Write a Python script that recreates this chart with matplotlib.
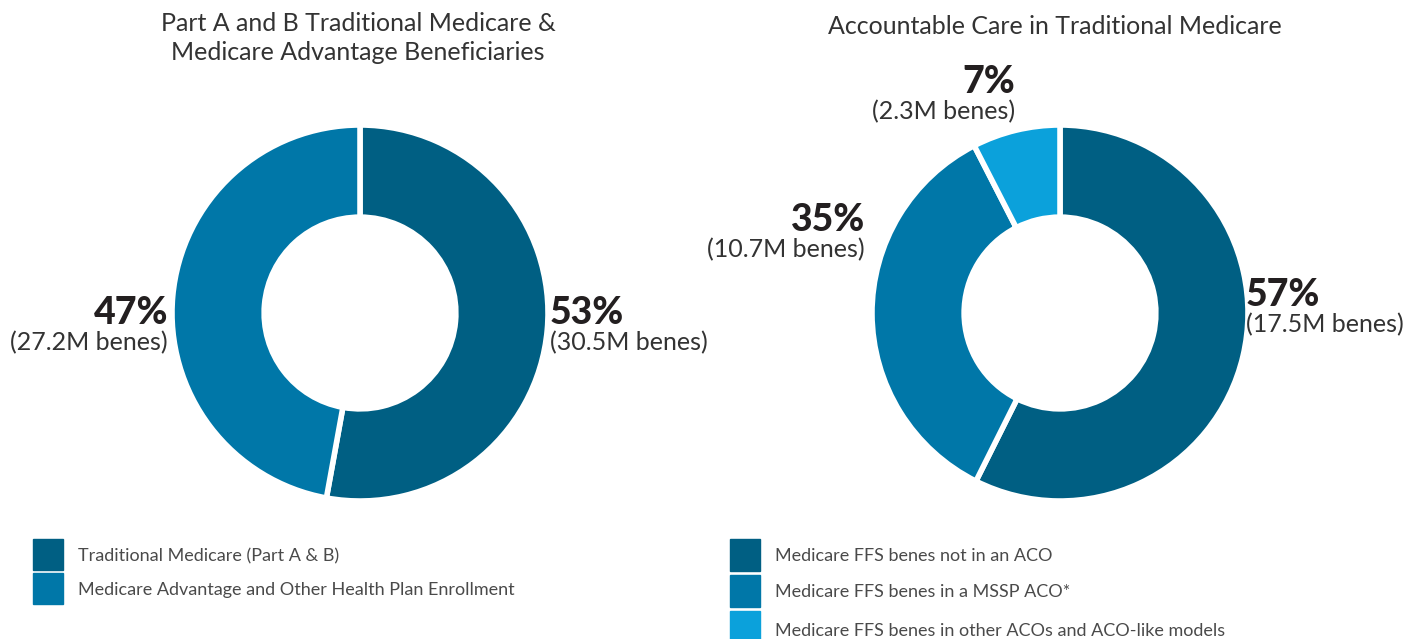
import matplotlib.pyplot as plt
from matplotlib.patches import Rectangle

plt.rcParams['font.family'] = ['Lato', 'DejaVu Sans']

# data
left_title = "Part A and B Traditional Medicare &\nMedicare Advantage Beneficiaries"
left_labels = ["Traditional Medicare (Part A & B)",
               "Medicare Advantage and Other Health Plan Enrollment"]
left_values = [30.5, 27.2]
left_pcts = ["53%", "47%"]

right_title = "Accountable Care in Traditional Medicare"
right_labels = ["Medicare FFS benes not in an ACO",
                "Medicare FFS benes in a MSSP ACO*",
                "Medicare FFS benes in other ACOs and ACO-like models"]
right_values = [17.5, 10.7, 2.3]
right_pcts = ["57%", "35%", "7%"]

colors = ["#005F83", "#0077A8", "#0BA1DB"]
W, H = 1420, 639
R = 188

fig = plt.figure(figsize=(W / 100, H / 100), dpi=100)

# background axes in pixel coords for titles and legends
bg = fig.add_axes([0, 0, 1, 1])
bg.set_xlim(0, W)
bg.set_ylim(H, 0)
bg.axis('off')


def donut(cx, cy, values, cols):
    ax = fig.add_axes([(cx - 200) / W, (H - cy - 200) / H, 400 / W, 400 / H])
    ax.pie(values, colors=cols, startangle=90, counterclock=False, radius=R,
           wedgeprops=dict(width=R * 0.49, edgecolor='white', linewidth=4))
    ax.set_xlim(-200, 200)
    ax.set_ylim(-200, 200)
    ax.set_aspect('equal')
    ax.axis('off')
    return ax


def label(ax, x, y, pct, val, ha):
    ax.text(x, y, pct, ha=ha, va='center', fontsize=27, fontweight='black',
            color='#231f20', clip_on=False)
    ax.text(x, y - 30, f"({val}M benes)", ha=ha, va='center', fontsize=18,
            color='#333333', clip_on=False)


ax1 = donut(360, 313, left_values, colors[:2])
label(ax1, 190, 0, left_pcts[0], left_values[0], 'left')
label(ax1, -192, 0, left_pcts[1], left_values[1], 'right')

ax2 = donut(1060, 313, right_values, colors)
label(ax2, 186, 18, right_pcts[0], right_values[0], 'left')
label(ax2, -195, 93, right_pcts[1], right_values[1], 'right')
label(ax2, -45, 231, right_pcts[2], right_values[2], 'right')

bg.text(358, 38, left_title, ha='center', va='center', fontsize=18,
        color='#333333', linespacing=1.35)
bg.text(1055, 27, right_title, ha='center', va='center', fontsize=18,
        color='#333333')

# legends
for i, lab in enumerate(left_labels):
    y0 = 539 + i * 34
    bg.add_patch(Rectangle((33, y0), 30, 31, color=colors[i], clip_on=False))
    bg.text(78, y0 + 17, lab, ha='left', va='center', fontsize=13, color='#4a4a4a')

for i, lab in enumerate(right_labels):
    y0 = 539 + i * 36
    bg.add_patch(Rectangle((730, y0), 30, 32, color=colors[i], clip_on=False))
    bg.text(775, y0 + 17 + (3 if i == 2 else 0), lab, ha='left', va='center',
            fontsize=13, color='#4a4a4a')

fig.savefig("out.png", dpi=100)
